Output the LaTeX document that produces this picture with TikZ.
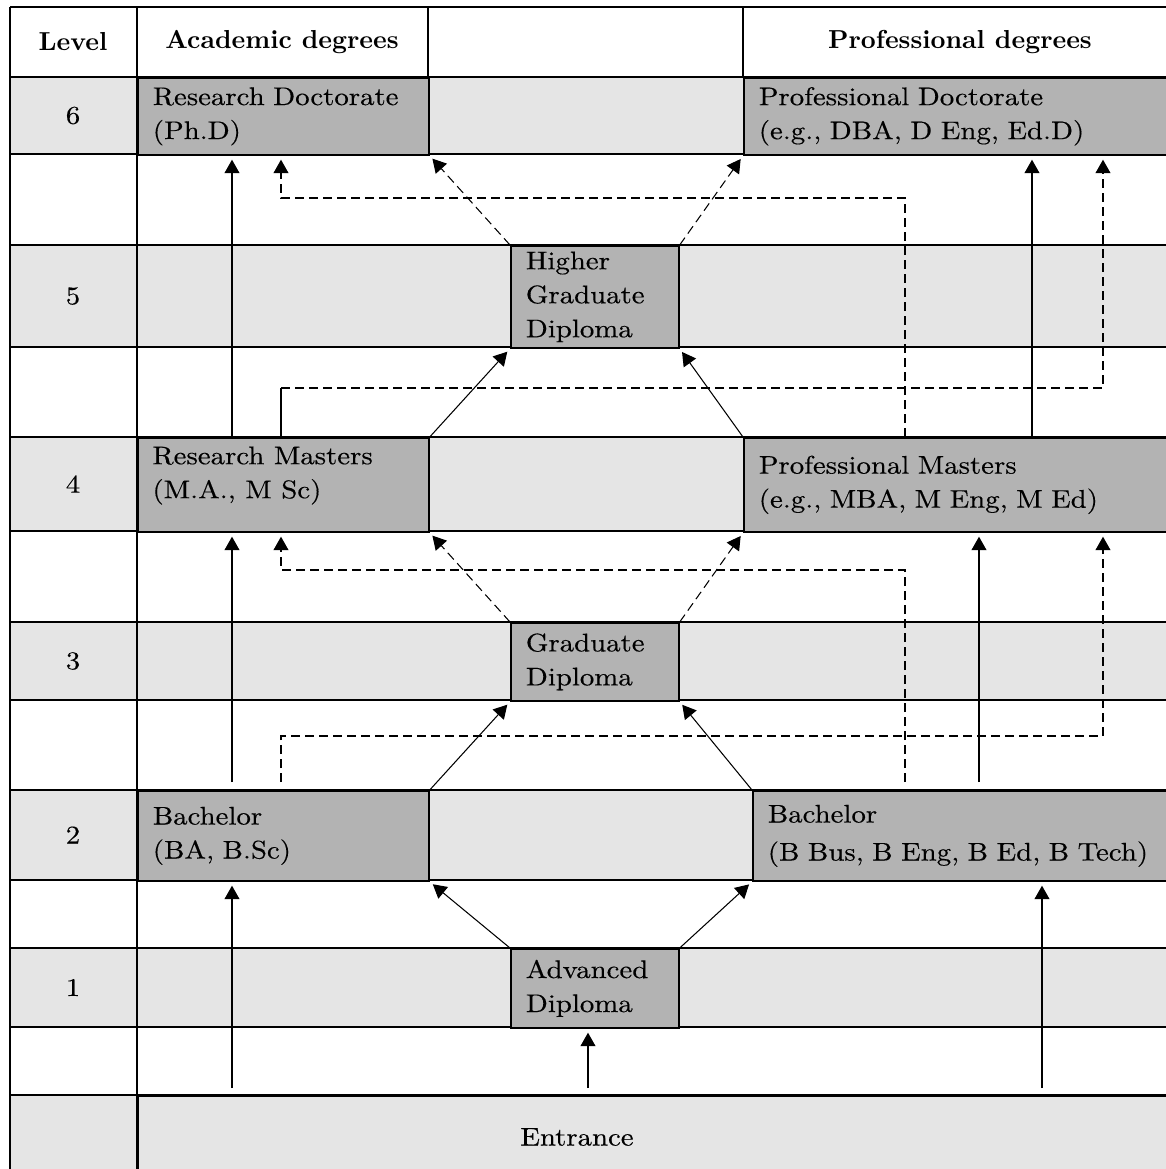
\documentclass[tikz,border=0pt]{standalone}
\usepackage{fontspec}
\newfontfamily\bodyfont{lmroman10-regular.otf}[FakeStretch=1.13, FakeBold=0.35]
\newfontfamily\hdfont{lmroman10-bold.otf}
\newcommand\bodytxt{\fontsize{10.2}{13.6}\selectfont\bodyfont}
\newcommand\hdtxt{\fontsize{10.4}{12}\selectfont\hdfont}
\usetikzlibrary{arrows.meta}
\definecolor{lightband}{HTML}{E5E5E5}
\definecolor{darkbox}{HTML}{B3B3B3}
\begin{document}
\begin{tikzpicture}[x=0.4pt,y=-0.4pt,
  grid/.style={line width=0.68pt},
  thinline/.style={line width=0.42pt},
  dbox/.style={draw, line width=0.68pt, fill=darkbox, anchor=north west,
    inner xsep=6pt, inner ysep=0pt, align=left, font=\bodytxt},
  band/.style={draw, line width=0.68pt, fill=lightband, anchor=north west, inner sep=0pt},
  txt/.style={font=\bodytxt, inner sep=0pt},
  hd/.style={font=\hdtxt, inner sep=0pt},
  arr/.style={thinline, -{Triangle[length=5.4pt,width=6pt]}, shorten >=1.6pt},
  darr/.style={arr, dash pattern=on 3.6pt off 2pt}]

\useasboundingbox (0,0) rectangle (1166,1169);
\clip (0,0) rectangle (1166,1169);
\fill[white] (0,0) rectangle (1166,1169);

% light bands
\foreach \t/\b in {77/154,245/347,437/531,622/700,790/880,948/1027,1095/1180}
  \fill[lightband] (10,\t) rectangle (1180,\b);

% grid
\foreach \y in {7,77,154,245,347,437,531,622,700,790,880,948,1027,1095}
  \draw[grid] (10,\y) -- (1180,\y);
\draw[grid] (10,7) -- (10,1180);
\draw[grid] (137,7) -- (137,1180);
\draw[grid] (428,7) -- (428,77);
\draw[grid] (743,7) -- (743,77);

% headers
\node[hd] (h1) at (73,42) {Level};
\node[hd] (h2) at (282,42) {Academic degrees};
\node[hd] (h3) at (960,42) {Professional degrees};

% level numbers
\node[txt] (l6) at (73,115.5) {6};
\node[txt] (l5) at (73,296) {5};
\node[txt] (l4) at (73,484) {4};
\node[txt] (l3) at (73,661) {3};
\node[txt] (l2) at (73,835) {2};
\node[txt] (l1) at (73,987.5) {1};

% boxes
\node[dbox, minimum width=116.4pt, text width=104.4pt, minimum height=30.8pt] (rd) at (137,77) {Research Doctorate\\(Ph.D)};
\node[dbox, minimum width=174pt, text width=162pt, minimum height=30.8pt] (pd) at (743,77) {Professional Doctorate\\(e.g., DBA, D Eng, Ed.D)};
\node[dbox, minimum width=67.2pt, text width=55.2pt, minimum height=40.8pt] (hgd) at (510,245) {Higher\\Graduate\\Diploma};
\node[dbox, minimum width=116.4pt, minimum height=37.6pt] (rm) at (137,437) {};
\node[txt, anchor=north west, align=left] (rmtext) at (152,446) {Research Masters\\(M.A., M Sc)};
\node[dbox, minimum width=174pt, text width=162pt, minimum height=37.6pt] (pm) at (743,437) {Professional Masters\\(e.g., MBA, M Eng, M Ed)};
\node[dbox, minimum width=67.2pt, text width=55.2pt, minimum height=31.2pt] (gd) at (510,622) {Graduate\\Diploma};
\node[dbox, minimum width=116.4pt, text width=104.4pt, minimum height=36pt] (ba) at (137,790) {Bachelor\\(BA, B.Sc)};
\node[dbox, minimum width=170.4pt, text width=158.4pt, minimum height=36pt] (pb) at (752,790) {Bachelor\\[1.6pt](B Bus, B Eng, B Ed, B Tech)};
\node[dbox, minimum width=67.2pt, text width=55.2pt, minimum height=31.6pt] (ad) at (510,948) {Advanced\\Diploma};
\node[band, minimum width=417.2pt, minimum height=34pt] (ent) at (137,1095) {};
\node[txt] (enttext) at (577,1137) {Entrance};

% x / y guides
\coordinate (xa) at (232,0);
\coordinate (xb) at (281,0);
\coordinate (xc) at (588,0);
\coordinate (xd) at (905,0);
\coordinate (xe) at (979,0);
\coordinate (xf) at (1032,0);
\coordinate (xg) at (1042,0);
\coordinate (xh) at (1103,0);
\coordinate (ya) at (0,198);
\coordinate (yb) at (0,388);
\coordinate (yc) at (0,570);
\coordinate (yd) at (0,736);

% entrance -> level 1/2
\draw[arr, shorten <=2.8pt] (ent.north -| xa) -- (ba.south -| xa);
\draw[arr, shorten <=2.8pt] (ent.north -| xc) -- (ad.south -| xc);
\draw[arr, shorten <=2.8pt] (ent.north -| xg) -- (pb.south -| xg);
% level 1 -> 2
\draw[arr] (ad.north west) -- (ba.south east);
\draw[arr] (ad.north east) -- (pb.south west);
% level 2 -> 3/4
\draw[arr, shorten <=3.2pt] (ba.north -| xa) -- (rm.south -| xa);
\draw[arr] (ba.north east) -- (gd.south west);
\draw[arr] (pb.north west) -- (gd.south east);
\draw[arr, shorten <=3.2pt] (pb.north -| xe) -- (pm.south -| xe);
\draw[darr, shorten <=3.2pt] (ba.north -| xb) -- (xb |- yd) -- (xh |- yd) -- (pm.south -| xh);
\draw[darr, shorten <=3.2pt] (pb.north -| xd) -- (xd |- yc) -- (xb |- yc) -- (rm.south -| xb);
% level 3 -> 4
\draw[darr] (gd.north west) -- (rm.south east);
\draw[darr] (gd.north east) -- (pm.south west);
% level 4 -> 5/6
\draw[arr] (rm.north east) -- (hgd.south west);
\draw[arr] (pm.north west) -- (hgd.south east);
\draw[arr] (rm.north -| xa) -- (rd.south -| xa);
\draw[arr] (pm.north -| xf) -- (pd.south -| xf);
\draw[thinline] (rm.north -| xb) -- (xb |- yb);
\draw[darr] (xb |- yb) -- (xh |- yb) -- (pd.south -| xh);
\draw[darr] (pm.north -| xd) -- (xd |- ya) -- (xb |- ya) -- (rd.south -| xb);
% level 5 -> 6
\draw[darr] (hgd.north west) -- (rd.south east);
\draw[darr] (hgd.north east) -- (pd.south west);
\end{tikzpicture}
\end{document}
